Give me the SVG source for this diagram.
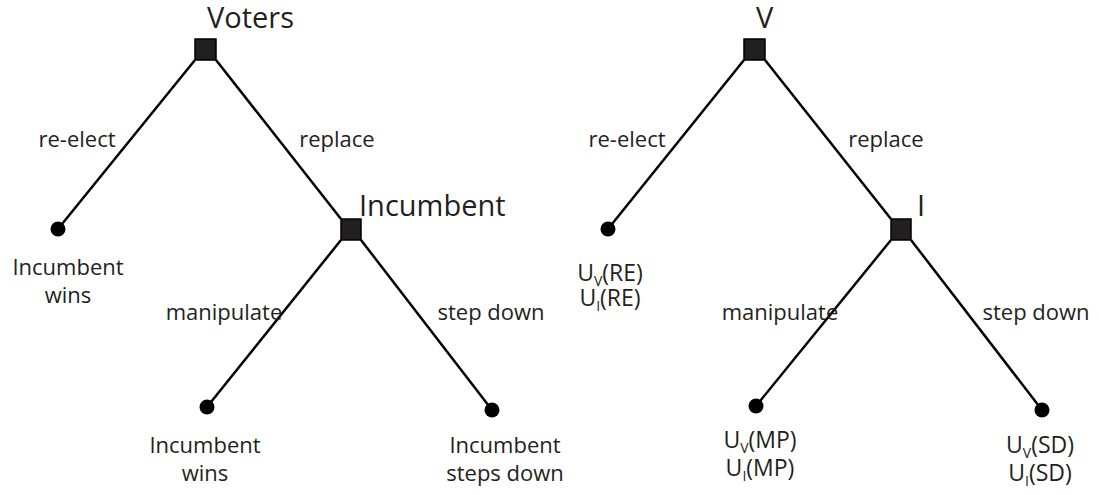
<svg xmlns="http://www.w3.org/2000/svg" width="1099" height="495" viewBox="0 0 1099 495">
  <style>
    text { font-family: "Open Sans", "Noto Sans", "Liberation Sans", sans-serif; fill: #231f20; }
    .title { font-size: 29px; }
    .edge-label { font-size: 22px; text-anchor: middle; }
    .leaf-label { font-size: 22px; text-anchor: middle; }
    .payoff { font-size: 23px; text-anchor: middle; }
    .sub { font-size: 14px; }
    .decision { fill: #231f20; stroke: #000; stroke-width: 1.5; }
    .terminal { fill: #000; }
    .branch { stroke: #000; stroke-width: 2.5; fill: none; }
  </style>

  <!-- branches -->
  <g id="connectors">
    <line class="branch" x1="195" y1="60" x2="58" y2="229"/>
    <line class="branch" x1="216" y1="60" x2="341" y2="219"/>
    <line class="branch" x1="341" y1="240" x2="207" y2="407"/>
    <line class="branch" x1="361" y1="240" x2="492" y2="410"/>

    <line class="branch" x1="744" y1="60" x2="608" y2="229"/>
    <line class="branch" x1="765" y1="60" x2="891" y2="219"/>
    <line class="branch" x1="891" y1="240" x2="756" y2="406"/>
    <line class="branch" x1="911" y1="240" x2="1042" y2="410"/>
  </g>

  <g id="edge-labels">
    <text class="edge-label" x="77" y="147">re-elect</text>
    <text class="edge-label" x="337" y="147">replace</text>
    <text class="edge-label" x="224" y="320">manipulate</text>
    <text class="edge-label" x="491" y="320">step down</text>

    <text class="edge-label" x="627" y="147">re-elect</text>
    <text class="edge-label" x="886" y="147">replace</text>
    <text class="edge-label" x="780" y="320">manipulate</text>
    <text class="edge-label" x="1036" y="320">step down</text>
  </g>

  <!-- left tree: descriptive outcomes -->
  <g id="voters">
    <rect class="decision" x="195" y="39" width="21" height="21"/>
    <text class="title" x="207" y="28">Voters</text>
  </g>
  <g id="incumbent">
    <rect class="decision" x="341" y="219" width="20" height="21"/>
    <text class="title" x="359" y="216">Incumbent</text>
  </g>
  <g id="leaf-reelect">
    <circle class="terminal" cx="58" cy="229" r="7.5"/>
    <text class="leaf-label" x="68" y="275">Incumbent</text>
    <text class="leaf-label" x="68" y="303">wins</text>
  </g>
  <g id="leaf-manipulate">
    <circle class="terminal" cx="207" cy="407" r="7.5"/>
    <text class="leaf-label" x="205" y="453">Incumbent</text>
    <text class="leaf-label" x="205" y="481">wins</text>
  </g>
  <g id="leaf-stepdown">
    <circle class="terminal" cx="492" cy="410" r="7.5"/>
    <text class="leaf-label" x="505" y="453">Incumbent</text>
    <text class="leaf-label" x="505" y="481">steps down</text>
  </g>

  <!-- right tree: payoffs -->
  <g id="v">
    <rect class="decision" x="744" y="39" width="21" height="21"/>
    <text class="title" x="756" y="28">V</text>
  </g>
  <g id="i">
    <rect class="decision" x="891" y="219" width="20" height="21"/>
    <text class="title" x="917" y="216">I</text>
  </g>
  <g id="payoff-re">
    <circle class="terminal" cx="608" cy="229" r="7.5"/>
    <text class="payoff" x="610" y="281">U<tspan class="sub" dy="5">V</tspan><tspan dy="-5">(RE)</tspan></text>
    <text class="payoff" x="610" y="306">U<tspan class="sub" dy="5">I</tspan><tspan dy="-5">(RE)</tspan></text>
  </g>
  <g id="payoff-mp">
    <circle class="terminal" cx="756" cy="406" r="7.5"/>
    <text class="payoff" x="760" y="448">U<tspan class="sub" dy="5">V</tspan><tspan dy="-5">(MP)</tspan></text>
    <text class="payoff" x="760" y="476">U<tspan class="sub" dy="5">I</tspan><tspan dy="-5">(MP)</tspan></text>
  </g>
  <g id="payoff-sd">
    <circle class="terminal" cx="1042" cy="410" r="7.5"/>
    <text class="payoff" x="1040" y="453">U<tspan class="sub" dy="5">V</tspan><tspan dy="-5">(SD)</tspan></text>
    <text class="payoff" x="1040" y="481">U<tspan class="sub" dy="5">I</tspan><tspan dy="-5">(SD)</tspan></text>
  </g>
</svg>
